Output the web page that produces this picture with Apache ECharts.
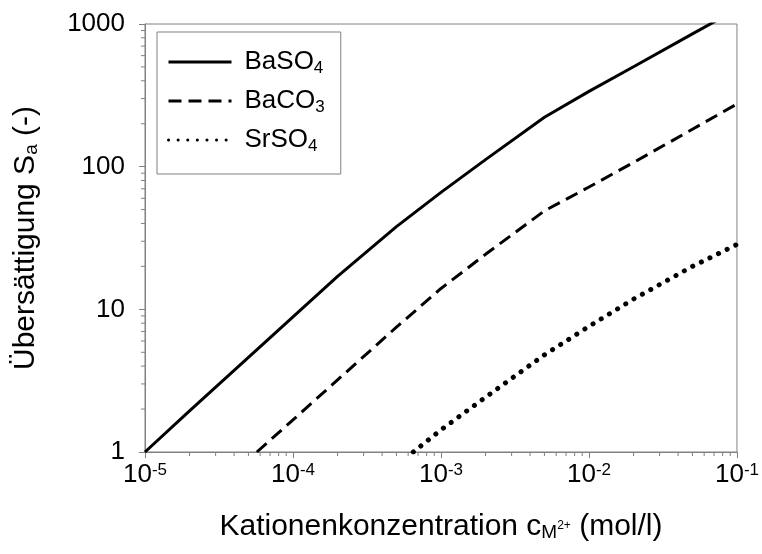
<!DOCTYPE html>
<html>
<head>
<meta charset="utf-8">
<script src="https://cdn.jsdelivr.net/npm/echarts@6/dist/echarts.min.js"></script>
<style>
html, body { margin: 0; padding: 0; background: #fff; }
#chart { width: 762px; height: 554px; }
</style>
</head>
<body>
<div id="chart"></div>
<script>
// Kationenkonzentration (mol/l) und Übersättigung
var xBaSO4 = [1e-5, 2e-5, 5e-5, 1e-4, 2e-4, 5e-4, 1e-3, 2e-3, 5e-3, 1e-2, 2e-2, 5e-2, 1e-1];
var yBaSO4 = [1, 1.94, 4.6, 8.85, 17, 38, 66, 112, 222, 337, 502, 852, 1270];

var xBaCO3 = [5.7e-5, 1e-4, 2e-4, 5e-4, 1e-3, 2e-3, 5e-3, 1e-2, 2e-2, 5e-2, 1e-1];
var yBaCO3 = [1, 1.68, 3.2, 7.5, 14, 24.3, 49, 72, 107, 183, 275];

var xSrSO4 = [6.5e-4, 1e-3, 2e-3, 5e-3, 1e-2, 2e-2, 5e-2, 1e-1];
var ySrSO4 = [1, 1.43, 2.42, 4.8, 7.6, 11.8, 20, 28.5];

// Nebenteilstriche (2..9 je Dekade)
var xDecades = [1e-5, 1e-4, 1e-3, 1e-2];
var yDecades = [1, 10, 100];
var minorFactors = [2, 3, 4, 5, 6, 7, 8, 9];
var xMinorTicks = [];
var yMinorTicks = [];

xDecades.forEach(function(d) {
	minorFactors.forEach(function(f) { xMinorTicks.push([f * d, 1]); });
});
yDecades.forEach(function(d) {
	minorFactors.forEach(function(f) { yMinorTicks.push([1e-5, f * d]); });
});

function pairs(xs, ys) {
	return xs.map(function(x, i) { return [x, ys[i]]; });
}

var font = "'Liberation Sans', Arial, sans-serif";
var axisGray = '#808080';

var chart = echarts.init(document.getElementById('chart'));

function lineSeries(name, xs, ys, style) {
	return {
		name : name,
		type : 'line',
		data : pairs(xs, ys),
		showSymbol : false,
		symbol : 'none',
		clip : true,
		lineStyle : style,
		itemStyle : {
			color : '#000'
		}
	};
}

var option = {
	animation : false,
	backgroundColor : '#fff',
	grid : {
		left : 145,
		right : 21,
		top : 24,
		bottom : 102,
		show : true,
		borderColor : axisGray,
		borderWidth : 1
	},
	legend : {
		data : [ 'BaSO4', 'BaCO3', 'SrSO4' ],
		orient : 'vertical',
		left : 157,
		top : 32,
		itemWidth : 63,
		itemHeight : 14,
		itemGap : 9,
		padding : [ 15, 16, 19, 10 ],
		borderColor : axisGray,
		borderWidth : 1,
		lineStyle : {
			width : 3
		},
		itemStyle : {
			color : 'rgba(0,0,0,0)',
			borderColor : 'rgba(0,0,0,0)',
			borderWidth : 0
		},
		formatter : function(name) {
			return name.replace(/(\d)/g, '{sub|$1}');
		},
		textStyle : {
			fontFamily : font,
			fontSize : 26,
			lineHeight : 30,
			color : '#000',
			padding : [ 0, 0, 0, 8 ],
			rich : {
				sub : {
					fontFamily : font,
					fontSize : 17,
					lineHeight : 30,
					color : '#000',
					verticalAlign : 'bottom'
				}
			}
		}
	},
	xAxis : {
		type : 'log',
		logBase : 10,
		min : 1e-5,
		max : 1e-1,
		name : 'Kationenkonzentration c{sub|M}{sup|2+} (mol/l)',
		nameLocation : 'middle',
		nameGap : 60,
		nameTextStyle : {
			fontFamily : font,
			fontSize : 30,
			color : '#000',
			rich : {
				sub : {
					fontFamily : font,
					fontSize : 19,
					color : '#000',
					verticalAlign : 'bottom'
				},
				sup : {
					fontFamily : font,
					fontSize : 12,
					color : '#000',
					verticalAlign : 'bottom',
					padding : [ 0, 0, 10, 0 ]
				}
			}
		},
		axisLine : {
			lineStyle : {
				color : axisGray,
				width : 1
			}
		},
		axisTick : {
			show : true,
			inside : false,
			length : 6,
			lineStyle : {
				color : axisGray
			}
		},
		splitLine : {
			show : false
		},
		axisLabel : {
			margin : 10,
			fontFamily : font,
			fontSize : 26,
			color : '#000',
			formatter : function(v) {
				var e = Math.round(Math.log(v) / Math.LN10);
				return '10{sup|' + e + '}';
			},
			rich : {
				sup : {
					fontFamily : font,
					fontSize : 17,
					color : '#000',
					verticalAlign : 'top'
				}
			}
		}
	},
	yAxis : {
		type : 'log',
		logBase : 10,
		min : 1,
		max : 1000,
		name : 'Übersättigung S{sub|a} (-)',
		nameLocation : 'middle',
		nameGap : 104,
		nameTextStyle : {
			fontFamily : font,
			fontSize : 30,
			color : '#000',
			rich : {
				sub : {
					fontFamily : font,
					fontSize : 19,
					color : '#000',
					verticalAlign : 'bottom'
				}
			}
		},
		axisLine : {
			show : true,
			lineStyle : {
				color : axisGray,
				width : 1
			}
		},
		axisTick : {
			show : true,
			inside : false,
			length : 6,
			lineStyle : {
				color : axisGray
			}
		},
		splitLine : {
			show : false
		},
		axisLabel : {
			margin : 20,
			fontFamily : font,
			fontSize : 26,
			color : '#000',
			formatter : function(v) {
				return String(Math.round(v));
			}
		}
	},
	series : [
		lineSeries('BaSO4', xBaSO4, yBaSO4, { color : '#000', width : 3, type : 'solid' }),
		lineSeries('BaCO3', xBaCO3, yBaCO3, { color : '#000', width : 3, type : [ 13, 7 ] }),
		lineSeries('SrSO4', xSrSO4, ySrSO4, { color : '#000', width : 5, type : [ 0.1, 9.5 ], cap : 'round' }),
	{
		name : 'xMinor',
		type : 'custom',
		silent : true,
		data : xMinorTicks,
		renderItem : function(params, api) {
			var p = api.coord([ api.value(0), api.value(1) ]);
			return {
				type : 'line',
				shape : { x1 : p[0], y1 : p[1], x2 : p[0], y2 : p[1] + 4 },
				style : { stroke : axisGray, lineWidth : 1 }
			};
		}
	}, {
		name : 'yMinor',
		type : 'custom',
		silent : true,
		data : yMinorTicks,
		renderItem : function(params, api) {
			var p = api.coord([ api.value(0), api.value(1) ]);
			return {
				type : 'line',
				shape : { x1 : p[0], y1 : p[1], x2 : p[0] - 4, y2 : p[1] },
				style : { stroke : axisGray, lineWidth : 1 }
			};
		}
	} ]
};

chart.setOption(option);
</script>
</body>
</html>
